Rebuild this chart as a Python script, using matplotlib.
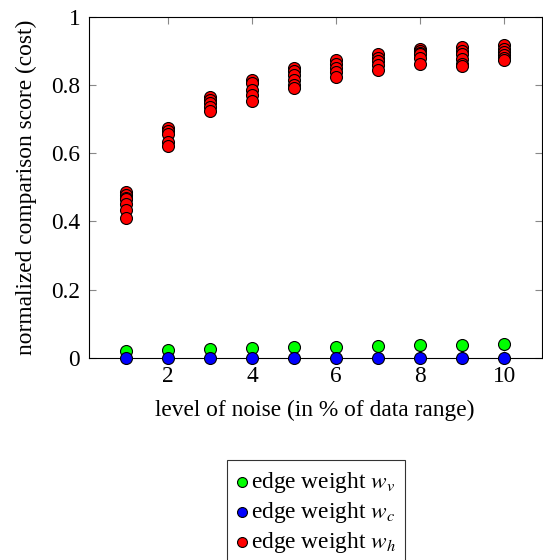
import matplotlib
matplotlib.use("Agg")
from matplotlib import pyplot as plt

plt.rcParams["font.family"] = ["Liberation Serif", "DejaVu Serif"]
plt.rcParams["mathtext.fontset"] = "stix"

noise = [1, 2, 3, 4, 5, 6, 7, 8, 9, 10]

# edge weight w_v (green), one run per noise level
w_v = [0.020, 0.022, 0.025, 0.028, 0.031, 0.033, 0.035, 0.037, 0.039, 0.041]
# edge weight w_c (blue)
w_c = [0.0, 0.0, 0.0, 0.0, 0.0, 0.0, 0.0, 0.0, 0.0, 0.0]
# edge weight w_h (red), several runs per noise level
w_h = [
    [0.487, 0.478, 0.470, 0.466, 0.450, 0.434, 0.410],
    [0.675, 0.665, 0.655, 0.632, 0.622],
    [0.765, 0.755, 0.748, 0.735, 0.724],
    [0.815, 0.805, 0.785, 0.770, 0.754],
    [0.850, 0.840, 0.830, 0.816, 0.800, 0.792],
    [0.872, 0.862, 0.850, 0.838, 0.824],
    [0.890, 0.880, 0.870, 0.860, 0.845],
    [0.906, 0.900, 0.894, 0.890, 0.878, 0.863],
    [0.911, 0.900, 0.890, 0.876, 0.862, 0.855],
    [0.918, 0.905, 0.896, 0.888, 0.878, 0.872],
]

fs = 16.8

fig = plt.figure(figsize=(5.43, 5.6), dpi=100)
ax = fig.add_axes([0.163, 0.361, 0.835, 0.609])

ms = 74
ax.scatter(noise, w_v, s=ms, c="#00ff00", edgecolors="black", linewidths=0.8,
           zorder=3, label=r"edge weight $w_v$", clip_on=False)
ax.scatter(noise, w_c, s=ms, c="#0000ff", edgecolors="black", linewidths=0.8,
           zorder=3, label=r"edge weight $w_c$", clip_on=False)
for i, vals in enumerate(w_h):
    ax.scatter([noise[i]] * len(vals), vals, s=ms, c="#ff0000",
               edgecolors="black", linewidths=0.8, zorder=3,
               label=r"edge weight $w_h$" if i == 0 else None)

ax.set_xlim(0.1, 10.9)
ax.set_ylim(0, 1)
ax.set_xticks([2, 4, 6, 8, 10])
ax.set_yticks([0, 0.2, 0.4, 0.6, 0.8, 1])
ax.set_yticklabels(["0", "0.2", "0.4", "0.6", "0.8", "1"])
ax.tick_params(direction="in", length=5, width=0.8, color="#888888",
               top=True, right=True, labelsize=fs)
ax.tick_params(axis="x", pad=6)
ax.tick_params(axis="y", pad=6)
for sp in ax.spines.values():
    sp.set_linewidth(0.8)

ax.set_xlabel("level of noise (in % of data range)", fontsize=fs, labelpad=9)
ax.set_ylabel("normalized comparison score (cost)", fontsize=fs, labelpad=10)

leg = fig.legend(loc="upper center", bbox_to_anchor=(316 / 543, 1 - 460 / 560),
                 fontsize=fs, frameon=True, fancybox=False, edgecolor="black",
                 handlelength=0.45, handletextpad=0.15, labelspacing=0.22,
                 borderpad=0.42, borderaxespad=0, markerscale=0.83)
leg.get_frame().set_linewidth(0.8)

fig.savefig("out.png", dpi=100)
